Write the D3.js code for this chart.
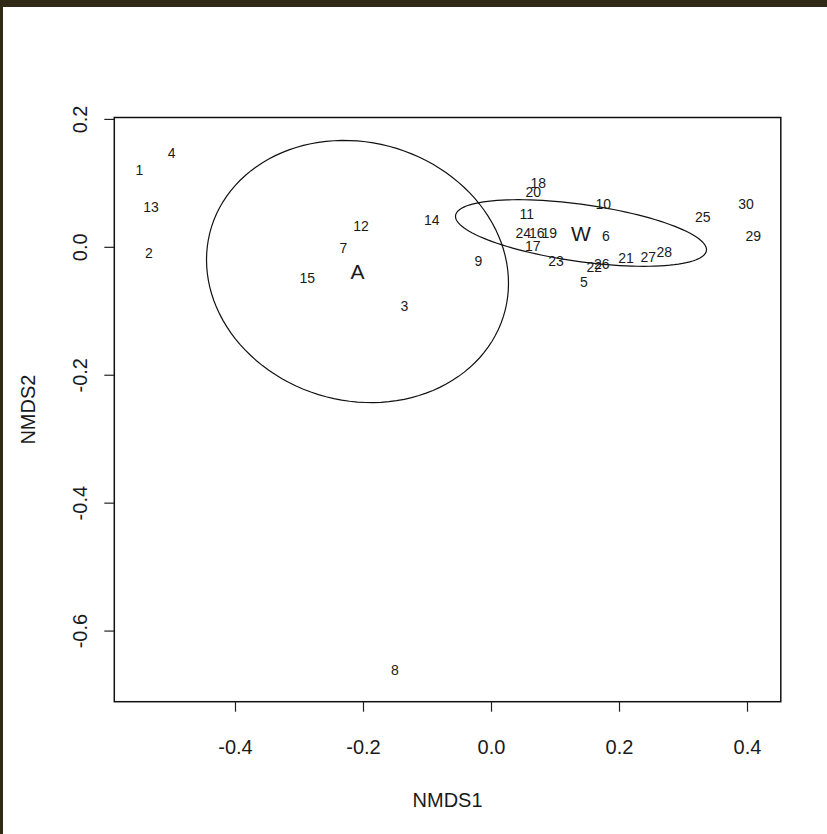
<!DOCTYPE html>
<html>
<head>
<meta charset="utf-8">
<script src="https://cdn.jsdelivr.net/npm/d3@7"></script>
<style>
  html, body { margin: 0; padding: 0; background: #fff; }
  svg { display: block; }
  text { font-family: "Liberation Sans", Arial, sans-serif; fill: #1a1a1a; }
</style>
</head>
<body>
<script>
// NMDS site scores
const siteIds = ["1","2","3","4","5","6","7","8","9","10","11","12","13","14","15",
                 "16","17","18","19","20","21","22","23","24","25","26","27","28","29","30"];
const nmds1 = [-0.5495,-0.5344,-0.1355,-0.4989, 0.1453, 0.1797,-0.2308,-0.1500,-0.0198, 0.1755,
                0.0558,-0.2031,-0.5313,-0.0927,-0.2870, 0.0714, 0.0652, 0.0739, 0.0911, 0.0661,
                0.2109, 0.1614, 0.1016, 0.0505, 0.3308, 0.1730, 0.2458, 0.2708, 0.4098, 0.3984];
const nmds2 = [ 0.1201,-0.0092,-0.0921, 0.1471,-0.0546, 0.0169,-0.0014,-0.6617,-0.0222, 0.0664,
                0.0508, 0.0325, 0.0627, 0.0419,-0.0483, 0.0220, 0.0017, 0.0993, 0.0220, 0.0852,
               -0.0170,-0.0321,-0.0217, 0.0220, 0.0461,-0.0274,-0.0155,-0.0077, 0.0169, 0.0664];

// Group ellipses: centroid and dispersion matrix (sxx, sxy, syy)
const groups   = ["A", "W"];
const groupCx  = [-0.2086, 0.1406];
const groupCy  = [-0.0386, 0.0216];
const groupSxx = [0.05566, 0.03845];
const groupSxy = [-0.004324, -0.00512];
const groupSyy = [0.0420, 0.002711];

// Axis ticks
const xTicks = [-0.4, -0.2, 0.0, 0.2, 0.4];
const yTicks = [-0.6, -0.4, -0.2, 0.0, 0.2];
const xDomain = [-0.5886, 0.4528];
const yDomain = [-0.7112, 0.2022];

const W = 827, H = 834;
const plot = { left: 114.3, right: 780.8, top: 117.5, bottom: 701.7 };

const svg = d3.select("body").append("svg")
  .attr("width", W).attr("height", H);

// window frame
svg.append("rect").attr("x", 0).attr("y", 0).attr("width", W).attr("height", 7).attr("fill", "#302915");
svg.append("rect").attr("x", 0).attr("y", 0).attr("width", 3).attr("height", H).attr("fill", "#302915");

const x = d3.scaleLinear().domain(xDomain).range([plot.left, plot.right]);
const y = d3.scaleLinear().domain(yDomain).range([plot.bottom, plot.top]);

const fmt = d => d.toFixed(1);

// x axis
const gx = svg.append("g").attr("transform", `translate(0,${plot.bottom})`)
  .call(d3.axisBottom(x).tickValues(xTicks).tickFormat(fmt).tickSize(10).tickSizeOuter(0));
gx.select(".domain").remove();
gx.selectAll("line").attr("stroke", "#222").attr("stroke-width", 1.2);
gx.selectAll("text").attr("font-size", 20).attr("fill", "#222")
  .attr("dy", null).attr("dominant-baseline", "central").attr("y", 45);

// y axis (labels parallel to axis)
const gy = svg.append("g").attr("transform", `translate(${plot.left},0)`)
  .call(d3.axisLeft(y).tickValues(yTicks).tickFormat(fmt).tickSize(10).tickSizeOuter(0));
gy.select(".domain").remove();
gy.selectAll("line").attr("stroke", "#222").attr("stroke-width", 1.2);
gy.selectAll("text")
  .attr("x", null).attr("dy", null)
  .attr("text-anchor", "middle").attr("dominant-baseline", "central")
  .attr("font-size", 20).attr("fill", "#222")
  .attr("transform", "translate(-34,0) rotate(-90)");

// plot box
svg.append("rect")
  .attr("x", plot.left).attr("y", plot.top)
  .attr("width", plot.right - plot.left).attr("height", plot.bottom - plot.top)
  .attr("fill", "none").attr("stroke", "#111").attr("stroke-width", 1.5);

// axis titles
svg.append("text").attr("x", (plot.left + plot.right) / 2).attr("y", 800)
  .attr("text-anchor", "middle").attr("dominant-baseline", "central")
  .attr("font-size", 20).attr("fill", "#222").text("NMDS1");
svg.append("text")
  .attr("transform", `translate(28,${(plot.top + plot.bottom) / 2}) rotate(-90)`)
  .attr("text-anchor", "middle").attr("dominant-baseline", "central")
  .attr("font-size", 20).attr("fill", "#222").text("NMDS2");

// dispersion ellipses
const line = d3.line().x(d => x(d[0])).y(d => y(d[1]));
groups.forEach((g, i) => {
  const l11 = Math.sqrt(groupSxx[i]);
  const l21 = groupSxy[i] / l11;
  const l22 = Math.sqrt(groupSyy[i] - l21 * l21);
  const pts = d3.range(0, 361, 3).map(a => {
    const t = a * Math.PI / 180;
    return [groupCx[i] + l11 * Math.cos(t),
            groupCy[i] + l21 * Math.cos(t) + l22 * Math.sin(t)];
  });
  svg.append("path").attr("d", line(pts))
    .attr("fill", "none").attr("stroke", "#111").attr("stroke-width", 1.2);
  svg.append("text").attr("x", x(groupCx[i])).attr("y", y(groupCy[i]))
    .attr("text-anchor", "middle").attr("dominant-baseline", "central")
    .attr("font-size", 21).attr("fill", "#222").text(g);
});

// site labels
svg.append("g").selectAll("text").data(siteIds).join("text")
  .attr("x", (d, i) => x(nmds1[i]))
  .attr("y", (d, i) => y(nmds2[i]))
  .attr("text-anchor", "middle").attr("dominant-baseline", "central")
  .attr("font-size", 14).attr("fill", "#222")
  .text(d => d);
</script>
</body>
</html>
